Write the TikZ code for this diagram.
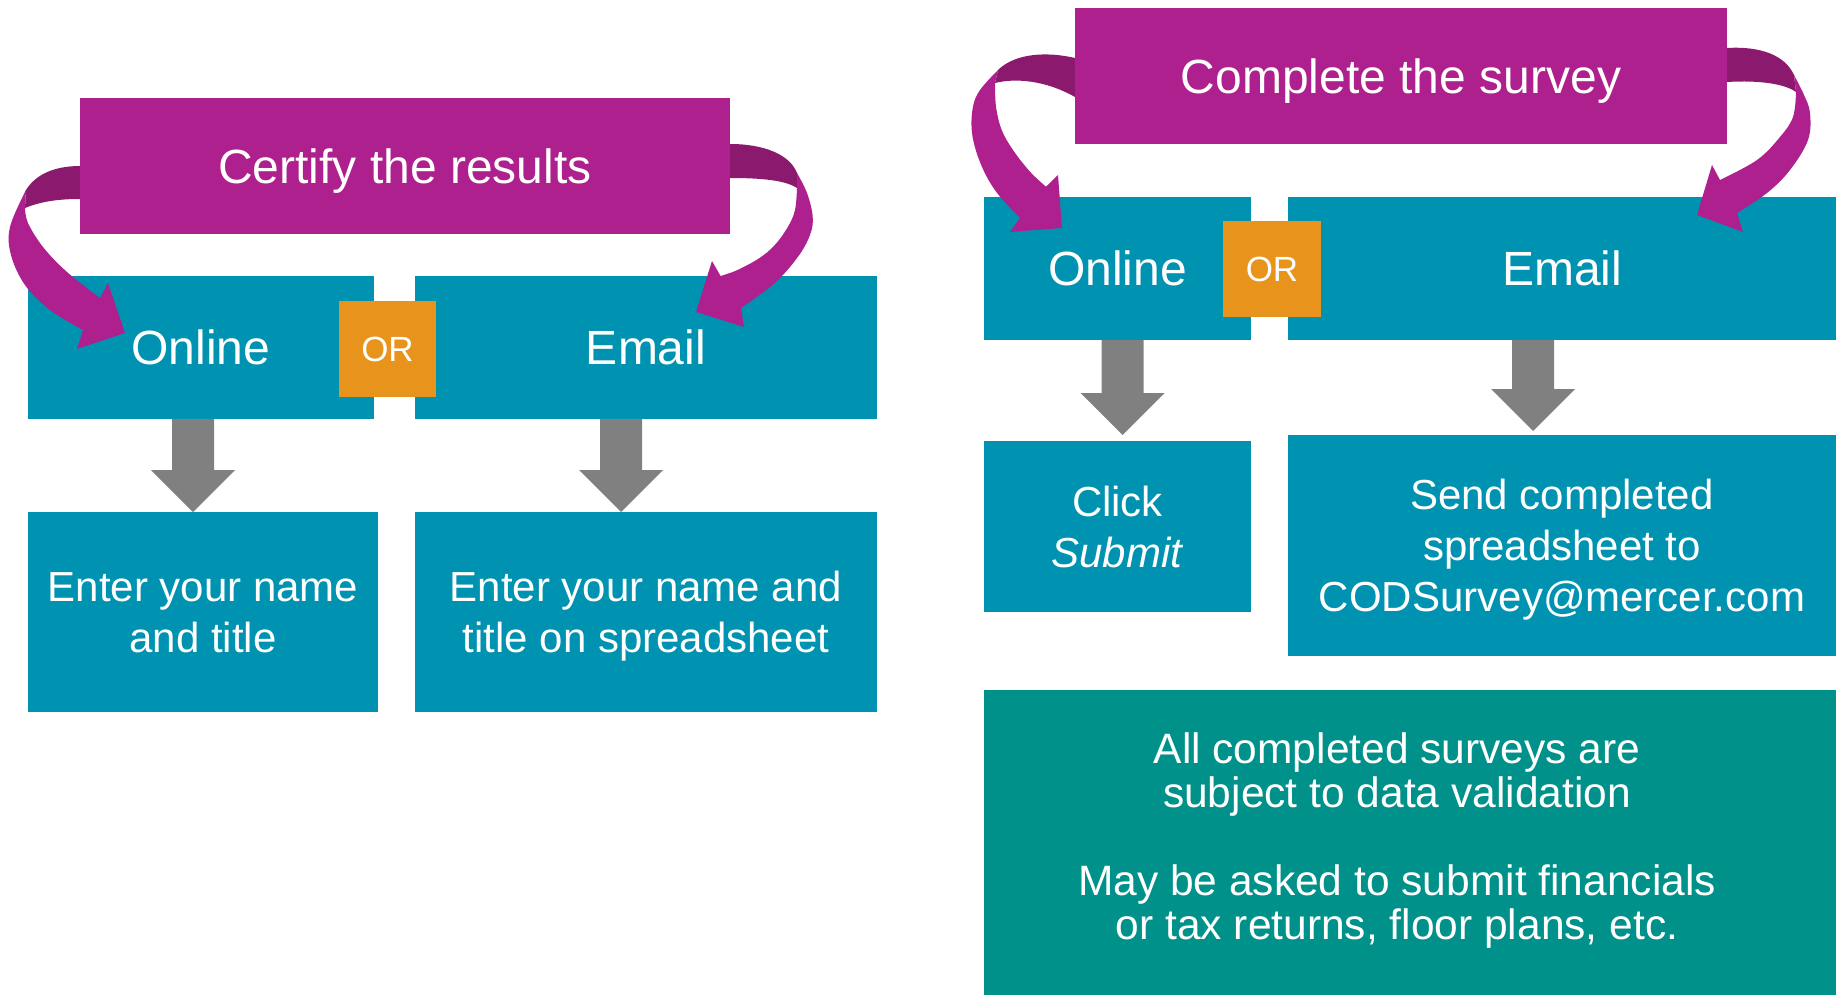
\documentclass[tikz,border=0pt]{standalone}
\usepackage{fontspec}
\setmainfont{Liberation Sans}
\usetikzlibrary{calc}
\definecolor{tealbox}{HTML}{0093B1}
\definecolor{tealbig}{HTML}{00918A}
\definecolor{mag}{HTML}{AE208E}
\definecolor{magdark}{HTML}{8B1A6F}
\definecolor{orng}{HTML}{E8941C}
\definecolor{grayarr}{HTML}{808080}
\tikzset{
  basebox/.style={inner sep=0pt, outer sep=0pt, text=white, align=center},
  titlebox/.style={basebox, fill=mag, font=\fontsize{48}{56}\selectfont, text height=34.4pt, text depth=0pt},
  choicebox/.style={basebox, fill=tealbox, font=\fontsize{48}{56}\selectfont, text height=34.4pt, text depth=0pt},
  orbox/.style={basebox, fill=orng, font=\fontsize{35}{40}\selectfont, text height=25pt, text depth=0pt},
  stepbox/.style={basebox, fill=tealbox, font=\fontsize{42}{51}\selectfont, text depth=0pt},
  bigbox/.style={basebox, fill=tealbig},
  bigtext/.style={basebox, font=\fontsize{42.5}{44}\selectfont},
  ribbonback/.style={fill=magdark},
  ribbonfront/.style={fill=mag},
}
\newcommand\grayarrow[3]{%
  \fill[grayarr] let \p1=(#2), \p2=(#3) in
   (#1pt-21pt,\y1) -- (#1pt+21pt,\y1) -- (#1pt+21pt,\y2+42pt) -- (#1pt+42pt,\y2+42pt)
   -- (#1pt,\y2) -- (#1pt-42pt,\y2+42pt) -- (#1pt-21pt,\y2+42pt) -- cycle;}
\begin{document}
\begin{tikzpicture}[x=1pt,y=-1pt]
\fill[white] (0,0) rectangle (1836,995);
\useasboundingbox (0,0) rectangle (1836,995);
% ---------- ribbon backs ----------
\fill[ribbonback] (85,166) -- (80,166) .. controls (55,166) and (36,174) .. (26,190) -- (25,208) .. controls (42,201) and (60,199) .. (80,199) -- (85,199) -- cycle;
\fill[ribbonback] (725,144) -- (730,144) .. controls (765,144) and (790,155) .. (797,173) -- (797,188) .. controls (785,180) and (760,178) .. (730,178) -- (725,178) -- cycle;
\fill[ribbonback] (1080,58) -- (1075,58) .. controls (1040,50) and (1012,56) .. (998,70) -- (995,83) .. controls (1015,78) and (1045,80) .. (1075,97) -- (1080,97) -- cycle;
\fill[ribbonback] (1722,48) -- (1727,48) .. controls (1760,46) and (1785,55) .. (1794,75) -- (1796,92) .. controls (1785,84) and (1760,80) .. (1727,82) -- (1722,82) -- cycle;
% ---------- left panel ----------
\node[titlebox, minimum width=650pt, minimum height=136pt] (cert) at (405,166) {Certify the results};
\node[choicebox, minimum width=346pt, minimum height=143pt] (onl1) at (201,347.5) {Online};
\node[choicebox, minimum width=462pt, minimum height=143pt] (em1) at (646,347.5) {Email};
\node[orbox, minimum width=97pt, minimum height=96pt] (or1) at (387.5,349) {OR};
\node[stepbox, text height=81pt, minimum width=350pt, minimum height=200pt] (ent1) at (203,612) {Enter your name\\and title};
\node[stepbox, text height=81pt, minimum width=462pt, minimum height=200pt] (ent2) at (646,612) {Enter your name and\\title on spreadsheet};
% ---------- right panel ----------
\node[titlebox, minimum width=652pt, minimum height=136pt] (comp) at (1401,76) {Complete the survey};
\node[choicebox, minimum width=267pt, minimum height=143pt] (onl2) at (1117.5,268.5) {Online};
\node[choicebox, minimum width=548pt, minimum height=143pt] (em2) at (1562,268.5) {Email};
\node[orbox, minimum width=98pt, minimum height=96pt] (or2) at (1272,269) {OR};
\node[stepbox, text height=81pt, minimum width=267pt, minimum height=171pt] (click) at (1117.5,526.5) {Click\\\textit{Submit}};
\node[stepbox, text height=132pt, minimum width=548pt, minimum height=221pt] (send) at (1562,545.5) {Send completed\\spreadsheet to\\CODSurvey@mercer.com};
\node[bigbox, minimum width=852pt, minimum height=305pt,
  label={[bigtext, text height=206pt, text depth=13pt, xshift=-13pt]center:All completed surveys are\\subject to data validation\\[44pt]May be asked to submit financials\\or tax returns, floor plans, etc.}] (all) at (1410,842.5) {};
% ---------- gray arrows ----------
\grayarrow{193}{onl1.south}{ent1.north}
\grayarrow{621}{em1.south}{ent2.north}
\grayarrow{1122.5}{onl2.south}{[yshift=6pt]click.north}
\grayarrow{1533}{em2.south}{[yshift=4pt]send.north}
% ---------- ribbon fronts ----------
\fill[ribbonfront] plot[smooth, tension=0.6] coordinates {(26,190) (10,227) (11,255) (25,285) (50,310) (83,330)}
  -- (77,349) -- (125,333) -- (108,283)
  -- plot[smooth, tension=0.6] coordinates {(100,298) (67,272) (43,247) (28,223) (25,208)} -- cycle;
\fill[ribbonfront] plot[smooth, tension=0.6] coordinates {(797,173) (807,193) (812.7,216.7) (810,235) (798,256.7) (774.8,283) (741,308)}
  -- (744,327) -- (696,312) -- (712,261)
  -- plot[smooth, tension=0.6] coordinates {(720.6,276) (737.5,270) (759.5,258) (774.8,245) (788,226.7) (795,210) (797,188)} -- cycle;
\fill[ribbonfront] plot[smooth, tension=0.6] coordinates {(998,70) (980,90) (973,106.7) (971.7,130) (976.7,153) (986.7,176.7) (1000,196.7) (1020,218)}
  -- (1010,232) -- (1062,228) -- (1058,175)
  -- plot[smooth, tension=0.6] coordinates {(1046,186.7) (1030,171.7) (1013,150) (1001.7,130) (996,106.7) (995,83)} -- cycle;
\fill[ribbonfront] plot[smooth, tension=0.6] coordinates {(1794,75) (1804,95) (1810,113) (1808,140) (1790,170) (1767,193) (1737,213)}
  -- (1743,232) -- (1697,215) -- (1712,165)
  -- plot[smooth, tension=0.6] coordinates {(1720,180) (1757,160) (1780,137) (1793,117) (1796,92)} -- cycle;
\end{tikzpicture}
\end{document}
